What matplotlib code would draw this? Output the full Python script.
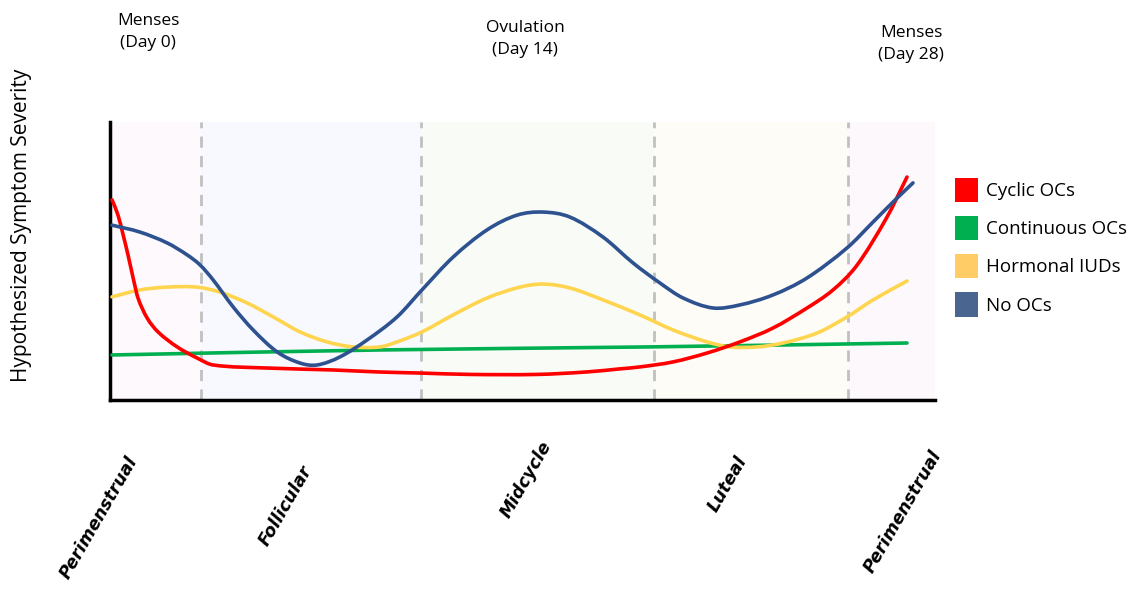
import numpy as np
import matplotlib.pyplot as plt
from matplotlib.patches import Patch, PathPatch
from matplotlib.path import Path

# x in cycle days, y in arbitrary severity units (0-10)
days_cyclic = [0, 0.21, 0.39, 0.56, 0.74, 0.91, 1.23, 1.61, 2.28, 2.98, 3.54, 5.43, 7.74,
               9.28, 10.78, 12.53, 14.88, 16.63, 17.78, 18.48, 19.64, 20.83, 21.98, 23.14,
               24.33, 25.24, 26.08, 27.13, 27.83]
sev_cyclic = [7.2, 6.65, 5.94, 5.22, 4.39, 3.67, 2.95, 2.45, 1.91, 1.51, 1.26, 1.15, 1.08,
              1.01, 0.97, 0.92, 0.92, 1.01, 1.12, 1.19, 1.37, 1.69, 2.09, 2.59,
              3.31, 3.96, 4.85, 6.58, 8.02]

days_cont = [0, 9.38, 18.83, 27.83]
sev_cont = [1.62, 1.80, 1.91, 2.05]

days_iud = [0, 0.98, 1.93, 2.98, 3.78, 4.73, 5.64, 6.58, 7.53, 8.44, 9.38, 9.98, 10.85,
            11.94, 13.13, 14.28, 15.09, 16.03, 17.19, 18.48, 19.64, 20.83, 21.63, 22.58,
            23.49, 24.68, 25.73, 26.64, 27.83]
sev_iud = [3.71, 3.96, 4.06, 4.06, 3.88, 3.49, 2.99, 2.45, 2.09, 1.91, 1.91, 2.09, 2.45,
           3.06, 3.67, 4.06, 4.17, 4.03, 3.60, 3.06, 2.52, 2.09, 1.91, 1.91,
           2.05, 2.41, 2.99, 3.60, 4.28]

days_none = [0, 0.98, 1.93, 2.63, 3.08, 3.54, 4.24, 4.94, 5.78, 6.58, 7.18, 7.98, 8.93,
             9.98, 10.85, 11.94, 13.13, 14.18, 15.09, 16.03, 17.19, 18.24, 19.18, 19.99,
             21.04, 21.98, 23.14, 24.33, 25.73, 26.64, 27.34, 28.04]
sev_none = [6.29, 6.04, 5.65, 5.22, 4.86, 4.32, 3.35, 2.52, 1.73, 1.33, 1.26, 1.55, 2.16,
            2.99, 3.96, 5.14, 6.12, 6.65, 6.76, 6.58, 5.86, 4.93, 4.21, 3.67,
            3.31, 3.42, 3.78, 4.39, 5.47, 6.40, 7.12, 7.81]

phase_edges = [-0.07, 3.12, 10.82, 18.97, 25.76, 28.81]
phase_colors = ['#fdf9fc', '#f7f9fe', '#f9fbf6', '#fdfcf7', '#fcf8fb']
phase_names = ['Perimenstrual', 'Follicular', 'Midcycle', 'Luteal', 'Perimenstrual']

series_labels = ['Cyclic OCs', 'Continuous OCs', 'Hormonal IUDs', 'No OCs']
legend_colors = ['#ff0000', '#00b050', '#ffcc66', '#4a6590']


def smooth_path(x, y):
    # catmull-rom style tangents -> bezier path (like a "smoothed line" chart)
    x = np.asarray(x, float)
    y = np.asarray(y, float)
    h = np.diff(x)
    d = np.diff(y) / h
    m = np.empty_like(y)
    m[0], m[-1] = d[0], d[-1]
    m[1:-1] = (y[2:] - y[:-2]) / (x[2:] - x[:-2])
    verts = [(x[0], y[0])]
    codes = [Path.MOVETO]
    for i in range(len(h)):
        verts += [(x[i] + h[i] / 3, y[i] + m[i] * h[i] / 3),
                  (x[i + 1] - h[i] / 3, y[i + 1] - m[i + 1] * h[i] / 3),
                  (x[i + 1], y[i + 1])]
        codes += [Path.CURVE4] * 3
    return Path(verts, codes)


W, H = 1139, 589
fig = plt.figure(figsize=(W / 100, H / 100), dpi=100)
ax = fig.add_axes([110 / W, 1 - 400 / H, 825 / W, 278 / H])
ax.set_xlim(phase_edges[0], phase_edges[-1])
ax.set_ylim(0, 10)

for i in range(len(phase_colors)):
    ax.axvspan(phase_edges[i], phase_edges[i + 1], color=phase_colors[i], lw=0, zorder=0)
for x in phase_edges[1:-1]:
    ax.axvline(x, color='#c0c0c0', ls=(0, (4, 3)), lw=2, zorder=1)

series = [(days_cont, sev_cont, '#00b050', 3),
          (days_iud, sev_iud, '#ffd54f', 3),
          (days_cyclic, sev_cyclic, '#ff0000', 4),
          (days_none, sev_none, '#2e5190', 5)]
for xs, ys, col, z in series:
    ax.add_patch(PathPatch(smooth_path(xs, ys), fill=False, edgecolor=col, lw=2.6,
                           capstyle='round', joinstyle='round', zorder=z))

for s in ['top', 'right']:
    ax.spines[s].set_visible(False)
for s in ['left', 'bottom']:
    ax.spines[s].set_linewidth(2.5)
    ax.spines[s].set_color('black')
ax.set_xticks([])
ax.set_yticks([])

# top annotations
top_font = dict(family='Open Sans', fontsize=12.5, ha='center', va='center', linespacing=1.55)
fig.text(148 / W, 1 - 32 / H, 'Menses\n(Day 0)', **top_font)
fig.text(525 / W, 1 - 39 / H, 'Ovulation\n(Day 14)', **top_font)
fig.text(911 / W, 1 - 44 / H, 'Menses\n(Day 28)', **top_font)

fig.text(22 / W, 1 - 225 / H, 'Hypothesized Symptom Severity', family='Open Sans',
         fontsize=15, rotation=90, ha='center', va='center')

# rotated phase labels
label_pos = [(133, 458), (308, 467), (548, 443), (743, 457), (937, 452)]
for name, (px, py) in zip(phase_names, label_pos):
    fig.text(px / W, 1 - py / H, name, rotation=60, rotation_mode='anchor',
             ha='right', va='center', fontsize=12.5, fontweight='bold', style='italic',
             family='DejaVu Sans')

handles = [Patch(facecolor=c, edgecolor='none') for c in legend_colors]
fig.legend(handles, series_labels, loc='upper left', bbox_to_anchor=(955 / W, 1 - 178 / H),
           frameon=False, handlelength=1.2, handleheight=1.6, handletextpad=0.45,
           labelspacing=0.75, borderpad=0, borderaxespad=0,
           prop={'family': 'Open Sans', 'size': 13.5})

fig.savefig('out.png', dpi=100)
